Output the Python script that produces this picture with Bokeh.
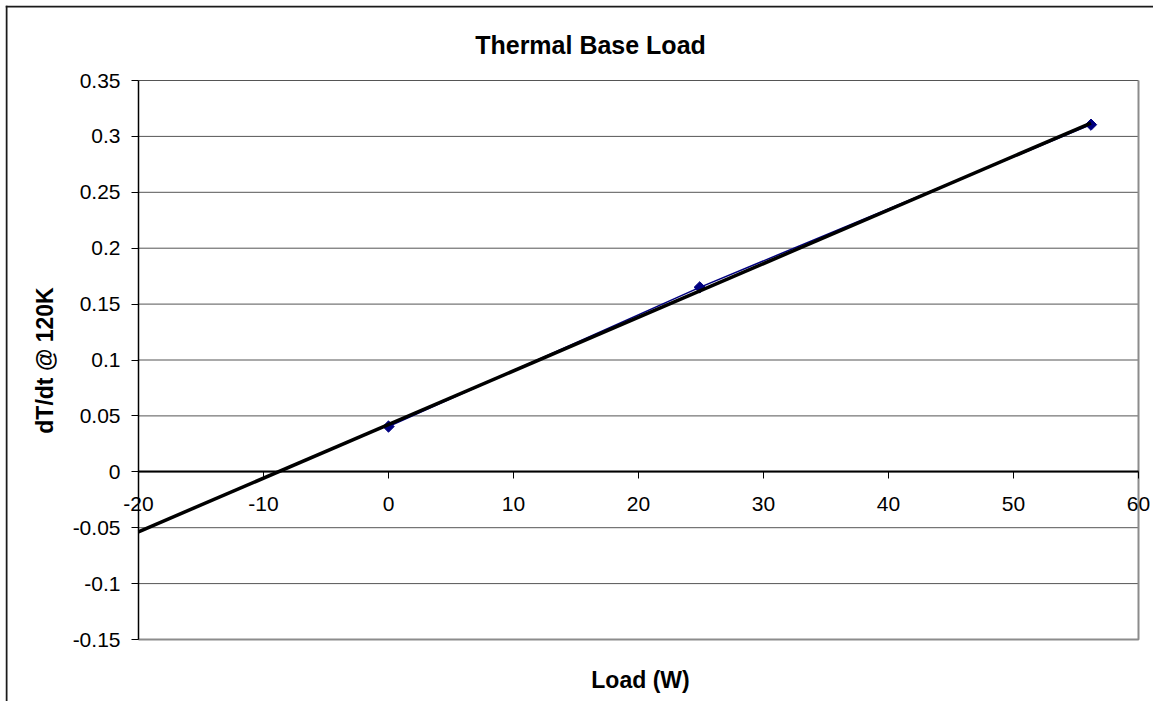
import numpy as np
from bokeh.plotting import figure
from bokeh.models import Label, FixedTicker, ColumnDataSource, LinearAxis, Span, Range1d
from bokeh.embed import file_html
from bokeh.resources import INLINE

# Data
load_w = [0.0, 24.9, 56.2]
dtdt = [0.0405, 0.165, 0.3105]
x_ticks = [-20, -10, 0, 10, 20, 30, 40, 50, 60]
x_tick_labels = ["-20", "-10", "0", "10", "20", "30", "40", "50", "60"]
y_ticks = [-0.15, -0.1, -0.05, 0.0, 0.05, 0.1, 0.15, 0.2, 0.25, 0.3, 0.35]
y_tick_labels = ["-0.15", "-0.1", "-0.05", "0", "0.05", "0.1", "0.15", "0.2", "0.25", "0.3", "0.35"]
title_text = "Thermal Base Load"
x_label = "Load (W)"
y_label = "dT/dt @ 120K"

FONT = "Liberation Sans"
XMIN, XMAX = -20, 60
YMIN, YMAX = -0.15, 0.35

# whole canvas is the frame; ranges chosen so the plot area lands like the reference
PXX = 12.5      # px per x unit
PXY = 1118.0    # px per y unit
FW, FH = 1148, 696
LEFT0, TOP0 = 138 - 5, 80 - 5
x_start = XMIN - LEFT0 / PXX
x_end = x_start + FW / PXX
y_end = YMAX + TOP0 / PXY
y_start = y_end - FH / PXY

p = figure(
    frame_width=FW, frame_height=FH,
    min_border_left=5, min_border_top=5, min_border_bottom=0, min_border_right=0,
    x_range=Range1d(x_start, x_end), y_range=Range1d(y_start, y_end),
    x_axis_location=None, y_axis_location=None,
    output_backend="svg", toolbar_location=None,
)
p.background_fill_color = "white"
p.border_fill_color = "white"
p.outline_line_color = None
p.xgrid.visible = False
p.ygrid.visible = False

# outer chart border (left and top visible)
p.add_layout(Span(location=x_start + 1 / PXX, dimension="height", line_color="#1a1a1a", line_width=2))
p.add_layout(Span(location=y_end - 1 / PXY, dimension="width", line_color="#1a1a1a", line_width=2))

# horizontal gridlines across plot area
p.segment(x0=[XMIN] * len(y_ticks), y0=y_ticks, x1=[XMAX] * len(y_ticks), y1=y_ticks,
          line_color="#555555", line_width=1)
# plot area border (right and bottom, gray)
p.line([XMIN, XMAX, XMAX], [YMIN, YMIN, YMAX], line_color="#8c8c8c", line_width=2)

# y axis at x = -20
ya = LinearAxis(fixed_location=XMIN, bounds=(YMIN, YMAX))
ya.ticker = FixedTicker(ticks=y_ticks)
ya.major_label_overrides = {t: l for t, l in zip(y_ticks, y_tick_labels)}
ya.major_label_text_font = FONT
ya.major_label_text_font_size = "21px"
ya.major_label_text_color = "black"
ya.major_tick_out = 7
ya.major_tick_in = 0
ya.minor_tick_out = 0
ya.minor_tick_in = 0
ya.axis_line_color = "black"
ya.axis_line_width = 1.5
ya.major_tick_line_color = "black"
ya.major_label_standoff = 11
p.add_layout(ya, "left")

# x axis at y = 0
xa = LinearAxis(fixed_location=0, bounds=(XMIN, XMAX))
xa.ticker = FixedTicker(ticks=x_ticks)
xa.major_label_overrides = {t: l for t, l in zip(x_ticks, x_tick_labels)}
xa.major_label_text_font = FONT
xa.major_label_text_font_size = "21px"
xa.major_label_text_color = "black"
xa.major_tick_out = 7
xa.major_tick_in = 0
xa.minor_tick_out = 0
xa.minor_tick_in = 0
xa.axis_line_color = "black"
xa.axis_line_width = 2
xa.major_tick_line_color = "black"
xa.major_label_standoff = 18
p.add_layout(xa, "below")

# series
src = ColumnDataSource(dict(x=load_w, y=dtdt))
p.line("x", "y", source=src, line_color="#000080", line_width=1.5)
p.scatter("x", "y", source=src, marker="square", angle=np.pi / 4, size=8,
          fill_color="#000080", line_color="#000080")

# linear trendline
slope, intercept = np.polyfit(load_w, dtdt, 1)
tx = [XMIN, max(load_w)]
ty = [slope * v + intercept for v in tx]
p.line(tx, ty, line_color="black", line_width=3.5)

# title and axis titles
p.add_layout(Label(x=XMIN + (590 - 138) / PXX, y=YMAX + (80 - 44) / PXY, text=title_text,
                   text_font=FONT, text_font_size="25px", text_font_style="bold",
                   text_align="center", text_baseline="middle", text_color="black"))
p.add_layout(Label(x=XMIN + (640 - 138) / PXX, y=YMAX - (679 - 80) / PXY, text=x_label,
                   text_font=FONT, text_font_size="23px", text_font_style="bold",
                   text_align="center", text_baseline="middle", text_color="black"))
p.add_layout(Label(x=XMIN - (138 - 44) / PXX, y=YMAX - (360 - 80) / PXY, text=y_label,
                   text_font=FONT, text_font_size="23px", text_font_style="bold", angle=np.pi / 2,
                   text_align="center", text_baseline="middle", text_color="black"))

open("out.html", "w").write(file_html(p, INLINE))
